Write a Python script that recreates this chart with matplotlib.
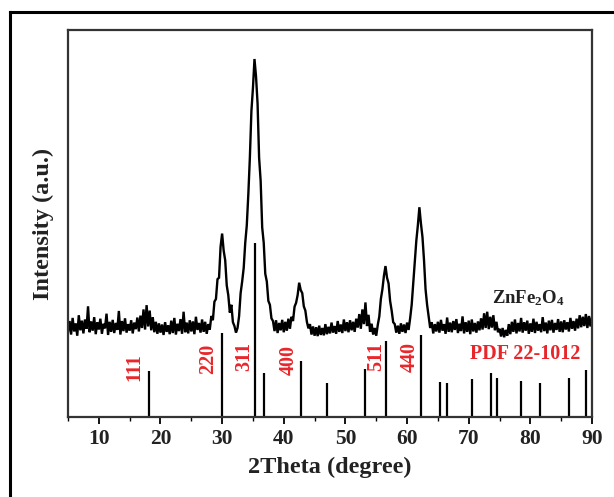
import numpy as np
import matplotlib.pyplot as plt
from matplotlib.lines import Line2D

plt.rcParams['font.family'] = 'Liberation Serif'
plt.rcParams['font.weight'] = 'bold'
plt.rcParams['mathtext.fontset'] = 'custom'
plt.rcParams['mathtext.bf'] = 'Liberation Serif:bold'
plt.rcParams['mathtext.rm'] = 'Liberation Serif:bold'

# measured XRD trace, one value every 0.25 degree from 5 to 90
two_theta = np.arange(341) * 0.25 + 5.0
intensity = [
    22.0, 24.8, 21.3, 25.6, 22.1, 24.2, 21.0, 26.3, 22.4, 24.9, 21.6, 25.2, 22.8, 28.6, 21.9, 24.7, 22.3, 25.8, 21.4, 24.5,
    22.6, 25.4, 21.5, 24.1, 22.9, 26.7, 21.2, 24.6, 22.0, 25.1, 21.7, 24.3, 22.5, 27.4, 21.3, 24.8, 22.2, 25.5, 21.8, 24.0,
    22.3, 25.0, 21.6, 24.4, 22.7, 25.7, 22.1, 26.2, 23.0, 27.8, 22.6, 28.9, 23.4, 27.5, 22.4, 25.8, 21.9, 24.6, 21.5, 24.2,
    21.8, 23.9, 21.2, 24.5, 22.0, 23.7, 21.4, 24.9, 21.7, 25.6, 21.3, 24.1, 22.2, 25.3, 21.5, 27.2, 21.9, 24.4, 21.6, 25.0,
    22.1, 24.7, 21.4, 25.9, 22.5, 24.3, 21.8, 25.2, 22.0, 24.6, 21.5, 24.0, 22.6, 26.1, 25.0, 29.8, 30.5, 35.6, 36.0, 44.0,
    47.4, 43.0, 40.5, 34.0, 31.5, 27.0, 29.0, 24.5, 23.5, 21.8, 23.0, 26.0, 32.0, 35.0, 38.5, 45.0, 49.5, 57.5, 67.0, 79.0,
    85.0, 92.5, 88.0, 81.0, 67.0, 61.0, 49.0, 45.0, 37.0, 35.0, 30.0, 29.0, 25.5, 24.8, 22.2, 25.0, 21.7, 24.3, 22.4, 25.1,
    21.9, 24.6, 22.3, 25.4, 22.8, 25.9, 24.8, 28.5, 29.5, 31.5, 34.7, 32.8, 32.0, 28.6, 27.5, 24.6, 22.9, 24.0, 21.3, 23.4,
    21.0, 23.2, 20.9, 23.6, 21.2, 23.0, 21.1, 24.0, 21.4, 23.3, 21.6, 24.4, 21.8, 23.5, 21.5, 24.8, 22.0, 23.9, 21.7, 25.2,
    22.2, 24.5, 21.9, 25.0, 22.4, 24.6, 22.0, 25.4, 23.1, 26.6, 22.8, 27.8, 24.0, 29.6, 23.5, 26.4, 22.0, 24.1, 21.3, 23.0,
    21.0, 23.8, 26.0, 30.5, 33.0, 36.5, 39.0, 36.0, 34.5, 30.0, 27.5, 24.5, 24.0, 21.8, 23.6, 21.5, 24.2, 22.0, 23.9, 21.7,
    24.4, 22.5, 25.5, 29.0, 34.5, 40.0, 45.5, 49.5, 54.2, 50.0, 46.5, 40.5, 33.0, 29.0, 26.0, 23.0, 24.5, 21.6, 24.0, 22.1,
    24.6, 21.8, 25.1, 22.3, 24.0, 21.5, 25.7, 22.0, 24.4, 21.9, 24.8, 22.5, 25.3, 21.7, 24.1, 22.2, 26.0, 21.6, 24.5, 22.0,
    24.9, 21.4, 25.2, 22.1, 24.3, 21.8, 24.7, 22.4, 25.5, 22.6, 26.8, 23.0, 27.2, 22.7, 25.9, 23.1, 26.3, 22.4, 24.6, 21.9,
    22.8, 20.8, 23.0, 20.6, 22.5, 21.0, 24.0, 21.4, 24.6, 22.0, 25.2, 21.6, 24.3, 22.1, 25.6, 21.8, 24.5, 22.3, 24.9, 21.5,
    24.2, 22.0, 25.4, 21.7, 24.6, 22.3, 24.0, 21.9, 25.8, 22.2, 24.4, 21.6, 24.9, 22.4, 25.1, 21.8, 24.3, 22.5, 25.3, 22.0,
    24.7, 21.9, 25.0, 22.6, 24.5, 22.1, 25.6, 22.8, 24.8, 22.3, 25.4, 22.9, 26.3, 23.2, 25.9, 23.5, 26.6, 23.0, 26.1, 23.4,
    25.8,
]

# reference pattern PDF 22-1012
ref_pos = [18.19, 29.92, 35.26, 36.87, 42.84, 46.94, 53.11, 56.63, 62.21,
           65.40, 66.40, 70.60, 73.60, 74.60, 78.50, 81.50, 86.30, 89.00]
ref_height = [12.0, 21.7, 45.0, 11.4, 14.5, 8.8, 12.4, 19.7, 21.2,
              9.1, 8.8, 9.8, 11.4, 10.1, 9.3, 8.8, 10.1, 12.2]

# hkl labels and where they sit
hkl = ['111', '220', '311', '400', '511', '440']
hkl_x = [15.8, 27.7, 33.5, 40.8, 54.95, 60.4]
hkl_y = [12.8, 15.1, 15.7, 14.7, 15.6, 15.5]

fig = plt.figure(figsize=(6.14, 4.97), dpi=100)
ax = fig.add_axes([68 / 614, 1 - 417 / 497, (592 - 68) / 614, (417 - 30) / 497])

ax.plot(two_theta, intensity, color='black', lw=1.7, solid_joinstyle='miter')
ax.vlines(ref_pos, 0, ref_height, color='black', lw=1.6)

red = '#e8262a'
for lab, x, y in zip(hkl, hkl_x, hkl_y):
    ax.text(x, y, lab, color=red, fontsize=14.5, fontweight='bold',
            rotation=90, ha='center', va='center')
ax.text(79.2, 16.2, 'PDF 22-1012', color=red, fontsize=14.5,
        fontweight='bold', ha='center', va='center')
ax.text(85.6, 30.6, r'$\mathbf{ZnFe_2O_4}$', color='#222222', fontsize=13.5,
        ha='right', va='center')

ax.set_xlim(5, 90)
ax.set_ylim(0, 100)
ax.set_xticks(range(10, 91, 10))
ax.set_xticks(range(5, 90, 10), minor=True)
ax.set_yticks([])
ax.tick_params(axis='x', which='major', direction='out', length=5, width=1.3,
               labelsize=15.5, pad=4, labelcolor='#222222')
ax.tick_params(axis='x', which='minor', direction='out', length=3, width=1.0)
for lbl in ax.get_xticklabels():
    lbl.set_fontweight('bold')
for sp in ax.spines.values():
    sp.set_linewidth(1.6)
    sp.set_color('#333333')

ax.set_xlabel('2Theta (degree)', fontsize=17.5, fontweight='bold', labelpad=5,
              color='#222222')
ax.set_ylabel('Intensity (a.u.)', fontsize=17.5, fontweight='bold', labelpad=10,
              color='#222222')

# outer frame (left and top edges)
fig.add_artist(Line2D([10 / 614, 10 / 614], [0, 1 - 12 / 497], color='black', lw=2.2))
fig.add_artist(Line2D([10 / 614, 1], [1 - 12 / 497, 1 - 12 / 497], color='black', lw=2.2))

fig.savefig('out.png', dpi=100)
